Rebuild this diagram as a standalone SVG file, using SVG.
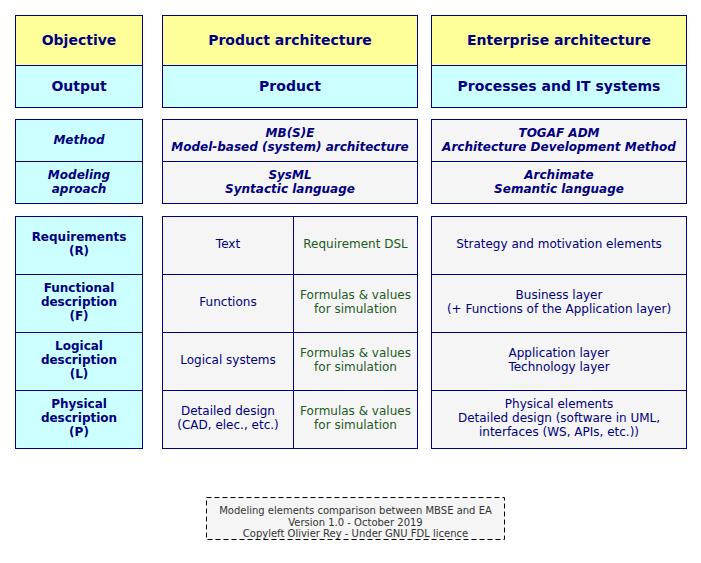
<svg xmlns="http://www.w3.org/2000/svg" width="701" height="563" viewBox="0 0 701 563">
<style>
.bx{stroke:#000080;stroke-width:1}
line{stroke:#000080;stroke-width:1}
.y{fill:#FFFF99}.c{fill:#CCFFFF}.g{fill:#F5F5F5}
text{font-family:"DejaVu Sans",sans-serif;text-anchor:middle;fill:#000080}
.h{font-size:14px;font-weight:bold}
.m{font-size:12px;font-weight:bold;font-style:italic}
.b{font-size:12px;font-weight:bold}
.n{font-size:12px}
.gr{font-size:12px;fill:#1E5A1E}
.f{font-size:10px;fill:#333333}
</style>
<rect width="701" height="563" fill="#FFFFFF"/>
<g id="col1-head">
<rect class="bx y" x="15.5" y="15.5" width="127" height="50"/>
<rect class="bx c" x="15.5" y="65.5" width="127" height="42"/>
<text class="h" x="79" y="45">Objective</text>
<text class="h" x="79" y="90.5">Output</text>
</g>
<g id="col2-head">
<rect class="bx y" x="162.5" y="15.5" width="255" height="50"/>
<rect class="bx c" x="162.5" y="65.5" width="255" height="42"/>
<text class="h" x="290" y="45">Product architecture</text>
<text class="h" x="290" y="90.5">Product</text>
</g>
<g id="col3-head">
<rect class="bx y" x="431.5" y="15.5" width="255" height="50"/>
<rect class="bx c" x="431.5" y="65.5" width="255" height="42"/>
<text class="h" x="559" y="45">Enterprise architecture</text>
<text class="h" x="559" y="90.5">Processes and IT systems</text>
</g>
<g id="col1-method">
<rect class="bx c" x="15.5" y="119.5" width="127" height="42"/>
<rect class="bx c" x="15.5" y="161.5" width="127" height="42"/>
<text class="m" x="79" y="144">Method</text>
<text class="m" x="79" y="178.5">Modeling</text>
<text class="m" x="79" y="192.5">aproach</text>
</g>
<g id="col2-method">
<rect class="bx g" x="162.5" y="119.5" width="255" height="42"/>
<rect class="bx g" x="162.5" y="161.5" width="255" height="42"/>
<text class="m" x="290" y="136.5">MB(S)E</text>
<text class="m" x="290" y="150.5">Model-based (system) architecture</text>
<text class="m" x="290" y="178.5">SysML</text>
<text class="m" x="290" y="192.5">Syntactic language</text>
</g>
<g id="col3-method">
<rect class="bx g" x="431.5" y="119.5" width="255" height="42"/>
<rect class="bx g" x="431.5" y="161.5" width="255" height="42"/>
<text class="m" x="559" y="136.5">TOGAF ADM</text>
<text class="m" x="559" y="150.5">Architecture Development Method</text>
<text class="m" x="559" y="178.5">Archimate</text>
<text class="m" x="559" y="192.5">Semantic language</text>
</g>
<g id="col1-levels">
<rect class="bx c" x="15.5" y="216.5" width="127" height="58"/>
<rect class="bx c" x="15.5" y="274.5" width="127" height="58"/>
<rect class="bx c" x="15.5" y="332.5" width="127" height="58"/>
<rect class="bx c" x="15.5" y="390.5" width="127" height="58"/>
<text class="b" x="79" y="241">Requirements</text>
<text class="b" x="79" y="255">(R)</text>
<text class="b" x="79" y="292">Functional</text>
<text class="b" x="79" y="306">description</text>
<text class="b" x="79" y="320">(F)</text>
<text class="b" x="79" y="350">Logical</text>
<text class="b" x="79" y="364">description</text>
<text class="b" x="79" y="378">(L)</text>
<text class="b" x="79" y="408">Physical</text>
<text class="b" x="79" y="422">description</text>
<text class="b" x="79" y="436">(P)</text>
</g>
<g id="col2-levels">
<rect class="bx g" x="162.5" y="216.5" width="255" height="58"/>
<rect class="bx g" x="162.5" y="274.5" width="255" height="58"/>
<rect class="bx g" x="162.5" y="332.5" width="255" height="58"/>
<rect class="bx g" x="162.5" y="390.5" width="255" height="58"/>
<line x1="293.5" y1="216.5" x2="293.5" y2="448.5"/>
<text class="n" x="228" y="248">Text</text>
<text class="n" x="228" y="306">Functions</text>
<text class="n" x="228" y="364">Logical systems</text>
<text class="n" x="228" y="415">Detailed design</text>
<text class="n" x="228" y="429">(CAD, elec., etc.)</text>
<text class="gr" x="355.5" y="248">Requirement DSL</text>
<text class="gr" x="355.5" y="299">Formulas &amp; values</text>
<text class="gr" x="355.5" y="313">for simulation</text>
<text class="gr" x="355.5" y="357">Formulas &amp; values</text>
<text class="gr" x="355.5" y="371">for simulation</text>
<text class="gr" x="355.5" y="415">Formulas &amp; values</text>
<text class="gr" x="355.5" y="429">for simulation</text>
</g>
<g id="col3-levels">
<rect class="bx g" x="431.5" y="216.5" width="255" height="58"/>
<rect class="bx g" x="431.5" y="274.5" width="255" height="58"/>
<rect class="bx g" x="431.5" y="332.5" width="255" height="58"/>
<rect class="bx g" x="431.5" y="390.5" width="255" height="58"/>
<text class="n" x="559" y="248">Strategy and motivation elements</text>
<text class="n" x="559" y="299">Business layer</text>
<text class="n" x="559" y="313">(+ Functions of the Application layer)</text>
<text class="n" x="559" y="357">Application layer</text>
<text class="n" x="559" y="371">Technology layer</text>
<text class="n" x="559" y="408">Physical elements</text>
<text class="n" x="559" y="422">Detailed design (software in UML,</text>
<text class="n" x="559" y="436">interfaces (WS, APIs, etc.))</text>
</g>
<g id="legend">
<rect x="206.5" y="497.5" width="298" height="42" fill="#F5F5F5" stroke="#000000" stroke-dasharray="5,3"/>
<text class="f" x="355.5" y="514">Modeling elements comparison between MBSE and EA</text>
<text class="f" x="355.5" y="525.5">Version 1.0 - October 2019</text>
<text class="f" x="355.5" y="537">Copyleft Olivier Rey - Under GNU FDL licence</text>
</g>
<g id="connectors"></g>
</svg>
